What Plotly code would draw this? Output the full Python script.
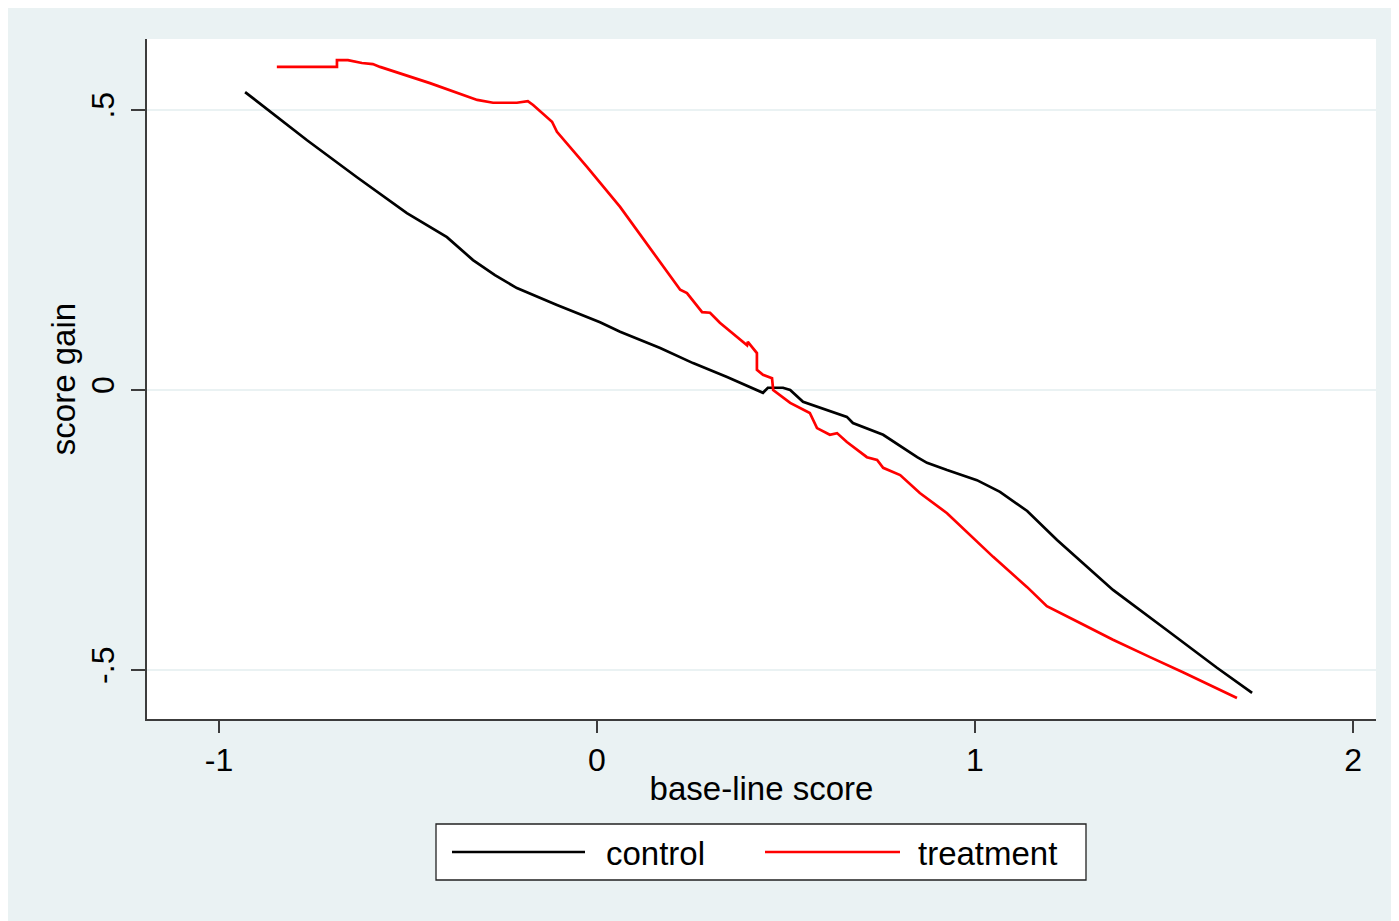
import plotly.graph_objects as go

# ---- data ----
control_x = [-0.931, -0.767, -0.635, -0.503, -0.397, -0.328, -0.270, -0.212, -0.106, 0.008, 0.061,
             0.167, 0.254, 0.344, 0.439, 0.452, 0.492, 0.511, 0.545, 0.608, 0.661,
             0.677, 0.757, 0.847, 0.873, 0.926, 1.005, 1.066, 1.138, 1.217, 1.365,
             1.508, 1.640, 1.733]
control_y = [0.532, 0.446, 0.380, 0.316, 0.273, 0.232, 0.205, 0.182, 0.152, 0.121, 0.104,
             0.075, 0.048, 0.023, -0.005, 0.004, 0.004, 0.000, -0.021, -0.036, -0.048,
             -0.059, -0.080, -0.120, -0.130, -0.143, -0.161, -0.182, -0.216, -0.268, -0.357,
             -0.429, -0.496, -0.541]

treatment_x = [-0.847, -0.688, -0.688, -0.659, -0.622, -0.593, -0.574, -0.442, -0.317, -0.275,
               -0.212, -0.183, -0.169, -0.119, -0.106, -0.071, -0.026, 0.061, 0.148, 0.220,
               0.238, 0.278, 0.299, 0.325, 0.397, 0.399, 0.423, 0.423, 0.439, 0.463,
               0.466, 0.511, 0.563, 0.582, 0.616, 0.635, 0.661, 0.714, 0.741, 0.757,
               0.802, 0.854, 0.926, 0.979, 1.048, 1.138, 1.190, 1.278, 1.365, 1.463,
               1.550, 1.693]
treatment_y = [0.577, 0.577, 0.589, 0.589, 0.584, 0.582, 0.577, 0.548, 0.518, 0.513,
               0.513, 0.516, 0.509, 0.479, 0.461, 0.434, 0.398, 0.327, 0.245, 0.179,
               0.173, 0.139, 0.138, 0.120, 0.080, 0.086, 0.066, 0.036, 0.027, 0.021,
               0.000, -0.023, -0.041, -0.068, -0.080, -0.077, -0.093, -0.120, -0.125, -0.139,
               -0.152, -0.184, -0.220, -0.254, -0.298, -0.352, -0.386, -0.416, -0.446, -0.477,
               -0.504, -0.550]

x_ticks = [-1, 0, 1, 2]
x_ticklabels = ["-1", "0", "1", "2"]
y_ticks = [-0.5, 0, 0.5]
y_ticklabels = ["-.5", "0", ".5"]

series_names = ["control", "treatment"]
series_colors = ["#000000", "#FF0000"]

BG = "#EAF2F3"
AXIS = "#3C3C3C"
FONT = "Liberation Sans, Arial, sans-serif"

fig = go.Figure()
fig.add_trace(go.Scatter(x=control_x, y=control_y, mode="lines", name=series_names[0],
                         line=dict(color=series_colors[0], width=2.7), showlegend=False))
fig.add_trace(go.Scatter(x=treatment_x, y=treatment_y, mode="lines", name=series_names[1],
                         line=dict(color=series_colors[1], width=2.7), showlegend=False))

OFF = 8  # page body margin
W, H = 1399 - OFF, 921 - OFF
L, R, T, B = 147 - OFF, 1376 - OFF, 39 - OFF, 719 - OFF
pw, ph = R - L, B - T


def px(xp):
    return (xp - OFF - L) / pw


def py(yp):
    return (B - (yp - OFF)) / ph


shapes = [
    # legend box
    dict(type="rect", xref="paper", yref="paper", x0=px(436), x1=px(1086), y0=py(880), y1=py(824),
         fillcolor="white", line=dict(color="#222222", width=1.3)),
    dict(type="line", xref="paper", yref="paper", x0=px(452), x1=px(585), y0=py(852), y1=py(852),
         line=dict(color=series_colors[0], width=2.7)),
    dict(type="line", xref="paper", yref="paper", x0=px(765), x1=px(900), y0=py(852), y1=py(852),
         line=dict(color=series_colors[1], width=2.7)),
]

annotations = [
    dict(text=series_names[0], xref="paper", yref="paper", x=px(604), y=py(853),
         xanchor="left", yanchor="middle", showarrow=False, font=dict(size=33, color="black", family=FONT)),
    dict(text=series_names[1], xref="paper", yref="paper", x=px(916), y=py(853),
         xanchor="left", yanchor="middle", showarrow=False, font=dict(size=33, color="black", family=FONT)),
]

fig.update_layout(
    width=W, height=H,
    margin=dict(l=L, r=W - R, t=T, b=H - B, pad=0),
    paper_bgcolor=BG,
    plot_bgcolor="white",
    font=dict(family=FONT, size=32, color="black"),
    shapes=shapes,
    annotations=annotations,
    showlegend=False,
)

fig.update_xaxes(
    range=[-1.1905, 2.0608], tickmode="array", tickvals=x_ticks, ticktext=x_ticklabels,
    showgrid=False, zeroline=False, showline=True, linecolor=AXIS, linewidth=1.6,
    ticks="outside", ticklen=12, tickwidth=1.6, tickcolor=AXIS,
    title=dict(text="base-line score", standoff=0, font=dict(size=33)),
    tickfont=dict(size=32), ticklabelstandoff=0,
)
fig.update_yaxes(
    range=[-0.5875, 0.6268], tickmode="array", tickvals=y_ticks, ticktext=y_ticklabels,
    showgrid=True, gridcolor=BG, gridwidth=2, zeroline=False,
    showline=True, linecolor=AXIS, linewidth=1.6,
    ticks="outside", ticklen=14, tickwidth=1.6, tickcolor=AXIS,
    tickangle=-90, ticklabelstandoff=4,
    title=dict(text="score gain", standoff=0, font=dict(size=33)),
    tickfont=dict(size=32),
)

fig.write_html("out.html")
